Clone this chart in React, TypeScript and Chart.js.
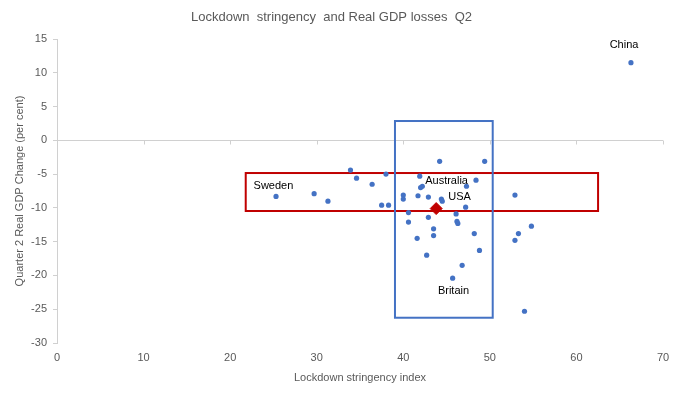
import React, { useEffect, useRef } from "react";
import { Chart, registerables } from "chart.js";

Chart.register(...registerables);

// Country observations: lockdown stringency index (x) vs Q2 real GDP change (y)
const stringency = [
  25.3, 29.7, 31.3, 33.9, 34.6, 36.4, 38.0, 37.5, 38.3, 40.0, 40.0, 40.6, 40.6, 41.6,
  41.9, 42.0, 42.2, 41.7, 42.9, 44.2, 49.4, 48.4, 47.3, 44.4, 44.5, 52.9, 47.2, 42.9,
  46.1, 46.2, 46.3, 43.5, 43.5, 48.2, 54.8, 53.3, 52.9, 48.8, 42.7, 46.8, 45.7, 54.0, 66.3,
];
const gdpChange = [
  -8.3, -7.9, -9.0, -4.4, -5.6, -6.5, -5.0, -9.6, -9.6, -8.1, -8.7, -10.7, -12.1, -14.5,
  -5.3, -7.0, -6.8, -8.2, -8.4, -3.1, -3.1, -5.9, -6.8, -8.7, -9.0, -8.1, -9.9, -11.4,
  -10.9, -12.0, -12.3, -13.1, -14.1, -13.8, -12.7, -13.8, -14.8, -16.3, -17.0, -18.5, -20.4, -25.3, 11.5,
];
// Average marker
const avgStringency = [43.8];
const avgGdp = [-10.1];

// Country labels (placed in data units)
const labelNames = ["China", "Sweden", "Australia", "USA", "Britain"];
const labelX = [65.5, 25.0, 45.0, 46.5, 45.8];
const labelY = [14.1, -6.8, -6.0, -8.35, -22.3];

// Highlight boxes in data units: [xMin, xMax, yMax, yMin]
const redBox = [21.8, 62.5, -4.84, -10.46];
const blueBox = [39.04, 50.33, 2.86, -26.26];

const xTicks = [0, 10, 20, 30, 40, 50, 60, 70];

const FONT = "'Liberation Sans', Arial, sans-serif";

export default function App() {
  const canvasRef = useRef<HTMLCanvasElement | null>(null);

  useEffect(() => {
    const canvas = canvasRef.current;
    if (!canvas) return;

    const overlay = {
      id: "overlay",
      beforeDatasetsDraw(chart: any) {
        const { ctx, scales } = chart;
        const x = scales.x;
        const y = scales.y;
        const area = chart.chartArea;
        ctx.save();
        // zero line with tick marks
        const y0 = Math.round(y.getPixelForValue(0)) + 0.5;
        ctx.strokeStyle = "#D0D0D0";
        ctx.lineWidth = 1;
        ctx.beginPath();
        ctx.moveTo(area.left, y0);
        ctx.lineTo(area.right, y0);
        for (const t of xTicks) {
          const px = Math.round(x.getPixelForValue(t)) + 0.5;
          ctx.moveTo(px, y0);
          ctx.lineTo(px, y0 + 4);
        }
        ctx.stroke();
        // boxes
        const box = (b: number[], color: string) => {
          const l = x.getPixelForValue(b[0]);
          const r = x.getPixelForValue(b[1]);
          const t = y.getPixelForValue(b[2]);
          const bt = y.getPixelForValue(b[3]);
          ctx.strokeStyle = color;
          ctx.lineWidth = 2;
          ctx.strokeRect(l, t, r - l, bt - t);
        };
        box(redBox, "#C00000");
        box(blueBox, "#4472C4");
        ctx.restore();
      },
      afterDatasetsDraw(chart: any) {
        const { ctx, scales } = chart;
        ctx.save();
        ctx.fillStyle = "#000000";
        ctx.font = `11px ${FONT}`;
        ctx.textAlign = "center";
        ctx.textBaseline = "middle";
        labelNames.forEach((n, i) => {
          ctx.fillText(n, scales.x.getPixelForValue(labelX[i]), scales.y.getPixelForValue(labelY[i]));
        });
        ctx.restore();
      },
    };

    const chart = new Chart(canvas, {
      type: "scatter",
      data: {
        datasets: [
          {
            label: "Average",
            data: avgStringency.map((v, i) => ({ x: v, y: avgGdp[i] })),
            backgroundColor: "#C00000",
            borderColor: "#C00000",
            pointStyle: "rectRot",
            pointRadius: 6,
            pointHoverRadius: 6,
          },
          {
            label: "Countries",
            data: stringency.map((v, i) => ({ x: v, y: gdpChange[i] })),
            backgroundColor: "#4472C4",
            borderColor: "#4472C4",
            pointRadius: 2.6,
            pointHoverRadius: 2.6,
            borderWidth: 0,
          },
        ],
      },
      options: {
        responsive: false,
        animation: false,
        layout: { padding: { left: 0, right: 17, top: 0, bottom: 0 } },
        plugins: {
          legend: { display: false },
          tooltip: { enabled: false },
          title: {
            display: true,
            text: "Lockdown  stringency  and Real GDP losses  Q2",
            color: "#595959",
            font: { family: FONT, size: 13, weight: "normal" },
            padding: { top: 10, bottom: 13.4 },
          },
        },
        scales: {
          x: {
            type: "linear",
            min: 0,
            max: 70,
            position: "bottom",
            afterFit: (s: any) => {
              s.height = 54;
            },
            border: { display: false },
            grid: { display: false, drawTicks: false },
            ticks: {
              stepSize: 10,
              color: "#595959",
              font: { family: FONT, size: 11 },
              padding: 8,
            },
            title: {
              display: true,
              text: "Lockdown stringency index",
              color: "#595959",
              font: { family: FONT, size: 11 },
              padding: { top: 4, bottom: 12 },
            },
          },
          y: {
            type: "linear",
            min: -30,
            max: 15,
            afterFit: (s: any) => {
              s.width = 57;
            },
            border: { display: true, color: "#D0D0D0" },
            grid: {
              display: true,
              drawOnChartArea: false,
              drawTicks: true,
              tickLength: 4,
              color: "#D0D0D0",
            },
            ticks: {
              stepSize: 5,
              color: "#595959",
              font: { family: FONT, size: 11 },
              padding: 6,
            },
            title: {
              display: true,
              text: "Quarter 2 Real GDP Change (per cent)",
              color: "#595959",
              font: { family: FONT, size: 11 },
              padding: { top: 13, bottom: 0 },
            },
          },
        },
      },
      plugins: [overlay],
    });

    return () => {
      chart.destroy();
    };
  }, []);

  return (
    <div style={{ position: "fixed", left: 0, top: 0, width: 680, height: 397, background: "#fff" }}>
      <canvas ref={canvasRef} width={680} height={397} style={{ display: "block" }} />
    </div>
  );
}
